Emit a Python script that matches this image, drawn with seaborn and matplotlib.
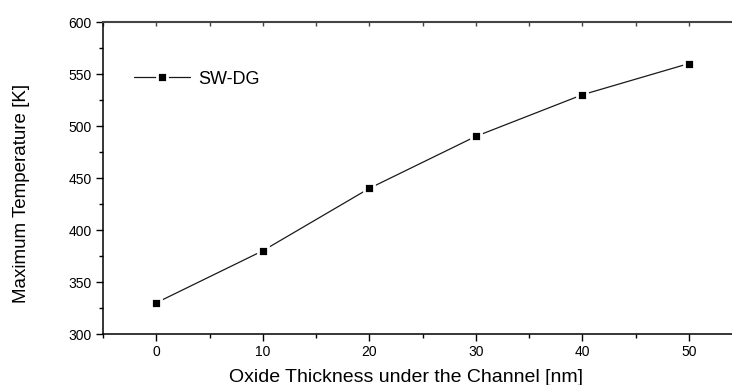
import matplotlib
matplotlib.use("Agg")
import matplotlib.pyplot as plt
from matplotlib.ticker import MultipleLocator
from matplotlib.lines import Line2D
import seaborn as sns
import pandas as pd

# Oxide thickness under the channel (nm) and the resulting peak temperature (K)
thickness_nm = [0, 10, 20, 30, 40, 50]
max_temp_k = [330, 380, 440, 490, 530, 560]
series_name = "SW-DG"

sns.set_theme(style="white")
plt.rcParams["font.family"] = ["Liberation Sans", "DejaVu Sans"]
plt.rcParams["text.color"] = "black"

df = pd.DataFrame({"x": thickness_nm, "y": max_temp_k, "s": series_name})

W, H = 732, 385
AX_L, AX_B, AX_W, AX_H = 103, 51, 639, 312
fig = plt.figure(figsize=(W / 100, H / 100), dpi=100)
# the x range runs past the right edge of the canvas
ax = fig.add_axes([AX_L / W, AX_B / H, AX_W / W, AX_H / H])

marker_style = dict(marker="s", markersize=7.5, markerfacecolor="black",
                    markeredgecolor="white", markeredgewidth=2.0)
sns.lineplot(data=df, x="x", y="y", hue="s", palette=["#1a1a1a"],
             linewidth=0.9, ax=ax, legend=False, **marker_style)

ax.set_xlim(-5, 55)
ax.set_ylim(300, 600)
ax.xaxis.set_major_locator(MultipleLocator(10))
ax.xaxis.set_minor_locator(MultipleLocator(5))
ax.yaxis.set_major_locator(MultipleLocator(50))
ax.yaxis.set_minor_locator(MultipleLocator(25))

for side in ["left", "bottom"]:
    ax.spines[side].set_visible(True)
    ax.spines[side].set_color("black")
    ax.spines[side].set_linewidth(1.1)
ax.spines["right"].set_visible(False)
ax.spines["top"].set_visible(True)
ax.spines["top"].set_color("#444444")
ax.spines["top"].set_linewidth(1.5)

ax.tick_params(axis="both", which="major", direction="out", length=5, width=1,
               color="black", labelsize=10, labelcolor="black", pad=3,
               bottom=True, left=True, top=False, right=False)
ax.tick_params(axis="both", which="minor", direction="out", length=3, width=1,
               color="black", bottom=True, left=True, top=False, right=False)

# short inward ticks along the top edge every 5 units
top = ax.secondary_xaxis("top")
top.xaxis.set_major_locator(MultipleLocator(5))
top.tick_params(direction="in", length=3, width=1, color="#444444",
                labeltop=False)
top.spines["top"].set_visible(False)

ax.set_xlabel("Oxide Thickness under the Channel [nm]", fontsize=14,
              color="black", va="center")
ax.set_ylabel("Maximum Temperature [K]", fontsize=13.5, color="black",
              va="center")
ax.xaxis.set_label_coords((406 - AX_L) / AX_W, -43 / AX_H)
ax.yaxis.set_label_coords(-(AX_L - 22) / AX_W, 0.5 - 15 / AX_H)

handle = Line2D([], [], color="#1a1a1a", linewidth=0.9, **marker_style)
ax.legend([handle], [series_name], loc="center left",
          bbox_to_anchor=(31 / AX_W, 1 - 57 / AX_H), frameon=False,
          fontsize=13, handlelength=3.1, handletextpad=0.45, borderaxespad=0,
          borderpad=0, labelcolor="black")

fig.savefig("out.png", dpi=100)
